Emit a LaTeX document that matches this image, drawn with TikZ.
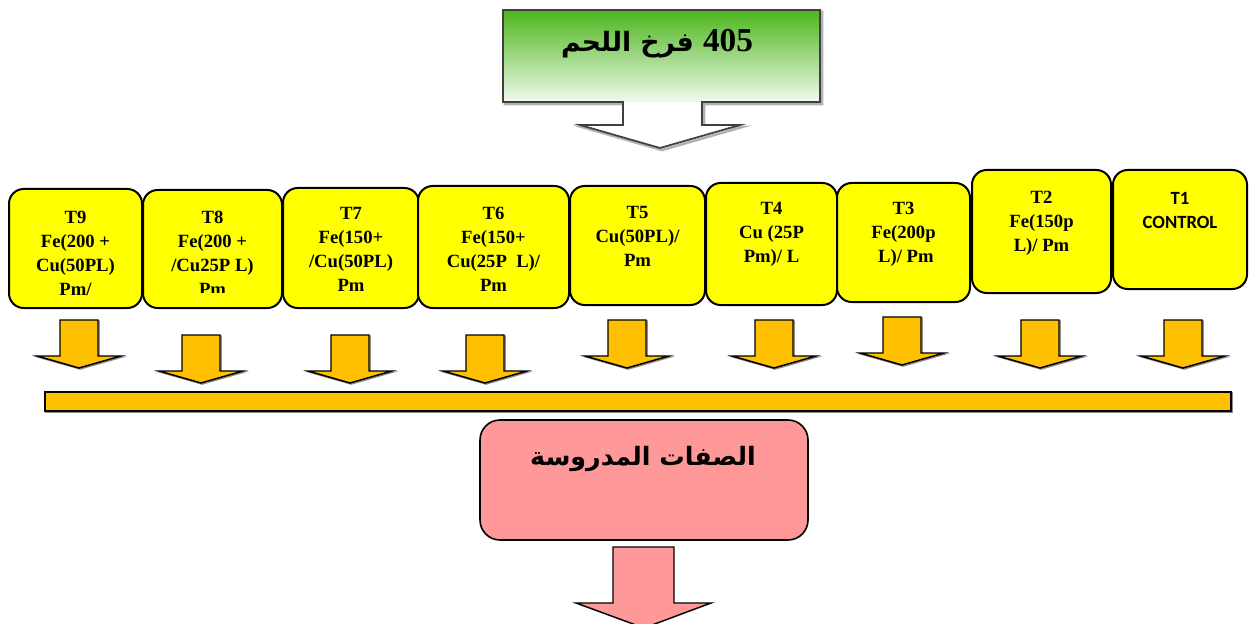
\documentclass[tikz,border=0pt]{standalone}
\usepackage{fontspec}
\setmainfont{Liberation Serif}
\newfontfamily\arfont[Script=Arabic]{DejaVu Sans}
\newfontfamily\calfont{Carlito}
\TeXXeTstate=1
\usetikzlibrary{fit, positioning}

\definecolor{ttyellow}{HTML}{FFFF00}
\definecolor{ttorange}{HTML}{FFC000}
\definecolor{ttpink}{HTML}{FF9999}
\definecolor{ttgreen}{HTML}{4CB61C}
\definecolor{ttlight}{HTML}{F2F9EE}

\tikzset{
	tbox/.style={draw=black, line width=1.5pt, fill=ttyellow, rounded corners=11pt, inner sep=0pt},
	ttext/.style={align=center, inner sep=0pt, font=\bfseries\fontsize{14}{18}\selectfont},
	pbox/.style={draw=black, line width=1.2pt, fill=ttpink, rounded corners=15pt, inner sep=0pt},
	artext/.style={inner sep=0pt, font=\arfont\bfseries\fontsize{19}{24}\selectfont},
	darrow/.pic={\draw[black!45, line width=1.1pt, xshift=0.8pt, yshift=-0.8pt] (-19,-48) -- (19,-48) -- (19,-12) -- (42,-12) -- (0,0) -- (-42,-12) -- (-19,-12) -- cycle;
		\draw[line width=1.1pt, fill=ttorange] (-19,-48) -- (19,-48) -- (19,-12) -- (42,-12) -- (0,0) -- (-42,-12) -- (-19,-12) -- cycle;}
}

\begin{document}
\begin{tikzpicture}[x=0.75pt, y=-0.75pt]
	
	\useasboundingbox (0,0) rectangle (1250,624);
	
	% top callout
	\draw[black!30, line width=2pt, xshift=1.5pt, yshift=-1.5pt] (503,10) -- (820,10) -- (820,102) -- (702,102) -- (702,125) -- (740,125) -- (660,148) -- (580,125) -- (623,125) -- (623,102) -- (503,102) -- cycle;
	\fill[white] (503,10) -- (820,10) -- (820,102) -- (702,102) -- (702,125) -- (740,125) -- (660,148) -- (580,125) -- (623,125) -- (623,102) -- (503,102) -- cycle;
	\shade[top color=ttgreen, bottom color=ttlight] (503,10) rectangle (820,102);
	\draw[black!75, line width=1.3pt] (503,10) -- (820,10) -- (820,102) -- (702,102) -- (702,125) -- (740,125) -- (660,148) -- (580,125) -- (623,125) -- (623,102) -- (503,102) -- cycle;
	\node[artext, font=\arfont\bfseries\fontsize{20}{24}\selectfont] (title) at (657,44) {\beginR\beginL{\rmfamily\fontsize{25}{28}\selectfont 405}\endL{} فرخ اللحم\endR};
	
	% treatments
	\node[tbox, fit={(9,189) (142,308)}] (t9) {};
	\node[tbox, fit={(143,190) (282,308)}] (t8) {};
	\node[tbox, fit={(283,188) (419,308)}] (t7) {};
	\node[tbox, fit={(418,186) (569,308)}] (t6) {};
	\node[tbox, fit={(570,186) (705,305)}] (t5) {};
	\node[tbox, fit={(706,183) (837,305)}] (t4) {};
	\node[tbox, fit={(837,183) (970,302)}] (t3) {};
	\node[tbox, fit={(972,170) (1111,293)}] (t2) {};
	\node[tbox, fit={(1113,170) (1247,289)}] (t1) {};
	
	\node[ttext, below=17pt of t9.north] (l9) {T9\\Fe(200 +\\Cu(50PL)\\Pm/};
	\begin{scope}
		\clip (143,190) rectangle (282,292);
		\node[ttext, below=16.5pt of t8.north] (l8) {T8\\Fe(200 +\\/Cu25P L)\\Pm};
	\end{scope}
	\node[ttext, below=15pt of t7.north] (l7) {T7\\Fe(150+\\/Cu(50PL)\\Pm};
	\begin{scope}
		\clip (418,186) rectangle (569,292);
		\node[ttext, below=16.5pt of t6.north] (l6) {T6\\Fe(150+\\Cu(25P\ \ L)/\\Pm};
	\end{scope}
	\node[ttext, below=16pt of t5.north] (l5) {T5\\Cu(50PL)/\\Pm};
	\node[ttext, below=15pt of t4.north] (l4) {T4\\Cu (25P\\Pm)/ L};
	\node[ttext, below=15pt of t3.north] (l3) {T3\\Fe(200p\\\ L)/ Pm};
	\node[ttext, below=16.5pt of t2.north] (l2) {T2\\Fe(150p\\L)/ Pm};
	\node[ttext, font=\calfont\bfseries\fontsize{14}{18}\selectfont, below=17pt of t1.north] (l1) {T1\\CONTROL};
	
	% arrows down to the bar
	\pic at (79,368) {darrow};
	\pic at (201,383) {darrow};
	\pic at (350,383) {darrow};
	\pic at (485,383) {darrow};
	\pic at (627,368) {darrow};
	\pic at (774,368) {darrow};
	\pic at (902,365) {darrow};
	\pic at (1040,368) {darrow};
	\pic at (1183,368) {darrow};
	
	\draw[black!45, line width=1.1pt, xshift=0.8pt, yshift=-0.8pt] (45,392) rectangle (1231,411);
	\draw[line width=1.1pt, fill=ttorange] (45,392) rectangle (1231,411);
	
	% studied traits
	\node[pbox, fit={(480,420) (808,540)}] (res) {};
	\node[artext] (restext) at (643,459) {\beginR الصفات المدروسة\endR};
	
	\draw[line width=1.1pt, fill=ttpink] (613,547) -- (674,547) -- (674,603) -- (711,603) -- (644,628) -- (576,603) -- (613,603) -- cycle;
	
\end{tikzpicture}
\end{document}
